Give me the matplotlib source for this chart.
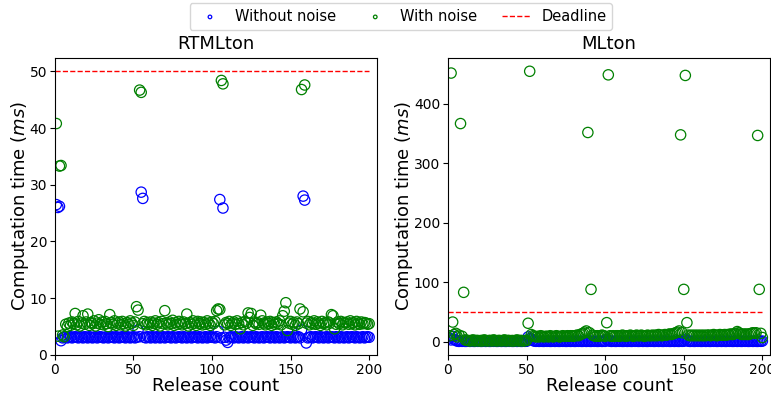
import numpy as np
import matplotlib
matplotlib.use("Agg")
import matplotlib.pyplot as plt

release = list(range(1, 201))
deadline = 50

# RTMLton, computation time (ms)
rt_clean = [
    26.5, 26.0, 26.2, 2.5, 3.0, 3.1, 3.2, 3.0, 3.1, 3.2, 3.0, 3.1, 3.2, 3.1, 3.0, 3.2, 3.1, 3.0, 3.2, 3.1,
    3.0, 3.2, 3.1, 3.0, 3.1, 3.2, 3.0, 3.1, 3.2, 3.1, 3.0, 3.1, 3.2, 3.0, 3.1, 3.2, 3.1, 3.0, 3.2, 3.1,
    3.0, 3.1, 3.2, 3.1, 3.0, 3.2, 3.1, 3.0, 3.1, 3.2, 3.0, 3.1, 4.4, 3.2, 28.7, 27.6, 3.1, 3.0, 3.2, 3.1,
    3.0, 3.2, 3.1, 3.0, 3.2, 3.1, 3.0, 3.1, 3.2, 3.0, 3.1, 3.2, 3.1, 3.0, 3.2, 3.1, 3.0, 3.1, 3.2, 3.1,
    3.0, 3.2, 3.1, 3.0, 3.1, 3.2, 3.0, 3.1, 3.2, 3.1, 3.0, 3.2, 3.1, 3.0, 3.1, 3.2, 3.0, 3.1, 3.2, 3.1,
    3.1, 3.0, 3.2, 4.2, 27.4, 3.0, 25.9, 3.1, 2.6, 2.2, 3.0, 3.2, 3.1, 3.0, 3.2, 3.1, 3.0, 3.1, 3.2, 3.0,
    3.1, 3.2, 3.0, 3.1, 3.2, 3.1, 3.0, 3.2, 3.1, 3.0, 3.1, 3.2, 3.0, 3.1, 3.2, 3.1, 3.0, 3.2, 3.1, 3.0,
    3.2, 3.1, 3.0, 3.1, 3.2, 3.0, 3.1, 3.2, 3.1, 3.0, 3.2, 3.1, 3.0, 3.1, 3.2, 3.0, 4.4, 28.0, 27.3, 2.1,
    3.0, 3.1, 3.2, 3.0, 3.1, 3.2, 3.1, 3.0, 3.2, 3.1, 3.0, 3.1, 3.2, 3.0, 3.1, 3.2, 3.1, 3.0, 3.2, 3.1,
    3.0, 3.2, 3.1, 3.0, 3.1, 3.2, 3.0, 3.1, 3.2, 3.1, 3.0, 3.2, 3.1, 3.0, 3.1, 3.2, 3.0, 3.1, 3.2, 3.1,
]
rt_noise = [
    40.8, 3.3, 33.3, 33.4, 3.5, 3.2, 5.4, 5.0, 5.6, 5.2, 5.8, 5.5, 7.3, 5.3, 5.9, 5.1, 5.6, 6.9, 5.4, 5.8,
    7.2, 5.2, 5.7, 5.5, 6.0, 5.1, 5.6, 6.2, 5.4, 5.8, 5.3, 5.9, 5.5, 5.0, 7.1, 5.7, 5.4, 6.0, 5.2, 5.6,
    5.8, 5.3, 5.9, 5.5, 5.1, 5.7, 5.4, 6.0, 5.6, 5.2, 5.8, 8.5, 7.9, 46.7, 46.3, 5.5, 5.9, 5.3, 5.7, 5.4,
    5.8, 5.2, 5.6, 6.0, 5.4, 5.7, 5.1, 5.9, 5.5, 7.8, 5.6, 5.3, 5.8, 5.5, 6.1, 5.2, 5.7, 5.4, 5.9, 5.6,
    5.3, 5.8, 5.5, 7.2, 5.1, 5.7, 5.4, 6.0, 5.6, 5.2, 5.9, 5.5, 5.8, 5.3, 5.7, 5.4, 6.0, 5.6, 5.2, 5.8,
    5.5, 5.9, 7.8, 8.1, 8.0, 48.4, 47.8, 5.3, 5.7, 5.5, 5.9, 5.2, 5.6, 5.8, 5.4, 6.0, 5.5, 4.6, 5.7, 5.3,
    5.9, 5.6, 7.4, 6.6, 7.3, 5.2, 5.8, 5.5, 5.7, 5.4, 7.0, 6.0, 5.6, 5.3, 5.8, 5.5, 5.9, 5.2, 5.7, 5.4,
    5.8, 5.5, 6.0, 5.3, 6.9, 7.7, 9.2, 4.3, 5.6, 5.9, 5.4, 5.7, 5.2, 5.8, 5.5, 8.1, 46.8, 7.6, 47.6, 5.6,
    5.9, 5.3, 5.7, 5.5, 6.0, 5.4, 5.8, 5.6, 5.2, 5.9, 5.5, 5.7, 5.3, 5.8, 5.6, 7.1, 6.9, 4.6, 5.4, 5.8,
    5.5, 5.9, 5.3, 5.7, 5.6, 5.8, 5.4, 6.0, 5.5, 5.7, 5.3, 5.9, 5.6, 5.4, 5.8, 5.5, 5.7, 5.6, 5.4, 5.5,
]

# MLton, computation time (ms)
ml_clean = [
    6, 3, 9, 4, 2, 1, 0.5, 0.8, 0.6, 0.7, 0.5, 0.6, 0.8, 0.5, 0.7, 0.6, 0.5, 0.8, 0.6, 0.7,
    0.5, 0.6, 0.8, 0.5, 0.7, 0.6, 0.5, 0.8, 0.6, 0.7, 0.5, 0.6, 0.8, 0.5, 0.7, 0.6, 0.5, 0.8, 0.6, 0.7,
    0.5, 0.6, 0.8, 0.5, 0.7, 0.6, 0.5, 0.8, 0.6, 0.7, 8, 5, 4, 2, 1, 0.6, 0.8, 0.5, 0.7, 0.6,
    0.5, 0.8, 0.6, 0.7, 0.5, 0.6, 0.8, 0.5, 0.7, 0.6, 0.5, 0.8, 0.6, 0.7, 0.5, 0.6, 0.8, 0.5, 0.7, 0.6,
    0.5, 0.8, 0.6, 0.7, 0.5, 0.6, 0.8, 0.5, 0.7, 0.6, 0.5, 0.8, 0.6, 0.7, 0.5, 0.6, 0.8, 0.5, 0.7, 0.6,
    4, 2, 0.8, 0.5, 0.7, 0.6, 0.5, 0.8, 0.6, 0.7, 0.5, 0.6, 0.8, 0.5, 0.7, 0.6, 0.5, 0.8, 0.6, 0.7,
    0.5, 0.6, 0.8, 0.5, 0.7, 0.6, 0.5, 0.8, 0.6, 0.7, 0.5, 0.6, 0.8, 0.5, 0.7, 0.6, 0.5, 0.8, 0.6, 0.7,
    0.5, 0.6, 0.8, 0.5, 0.7, 0.6, 0.5, 0.8, 0.6, 0.7, 4, 2, 0.8, 0.5, 0.7, 0.6, 0.5, 0.8, 0.6, 0.7,
    0.5, 0.6, 0.8, 0.5, 0.7, 0.6, 0.5, 0.8, 0.6, 0.7, 0.5, 0.6, 0.8, 0.5, 0.7, 0.6, 0.5, 0.8, 0.6, 0.7,
    0.5, 0.6, 0.8, 0.5, 0.7, 0.6, 0.5, 0.8, 0.6, 0.7, 0.5, 0.6, 0.8, 0.5, 0.7, 0.6, 0.5, 0.8, 0.6, 1.0,
]
ml_noise = [
    10, 452, 33, 12, 14, 8, 11, 367, 9, 83, 3, 2, 2, 1, 2, 3, 1, 2, 2, 1,
    2, 1, 3, 2, 1, 2, 2, 1, 3, 2, 1, 2, 2, 1, 2, 3, 1, 2, 2, 1,
    2, 1, 2, 3, 1, 2, 2, 1, 2, 2, 31, 455, 12, 10, 9, 8, 9, 8, 10, 9,
    8, 9, 9, 8, 10, 9, 8, 9, 10, 9, 8, 9, 10, 9, 9, 10, 9, 10, 10, 9,
    10, 11, 10, 12, 13, 14, 16, 18, 352, 15, 88, 11, 10, 9, 10, 9, 10, 11, 10, 9,
    32, 449, 10, 9, 10, 9, 10, 10, 9, 10, 11, 10, 9, 10, 10, 11, 10, 9, 10, 11,
    10, 10, 11, 10, 9, 10, 11, 10, 10, 11, 10, 11, 10, 12, 11, 10, 11, 12, 11, 12,
    13, 12, 13, 14, 15, 16, 18, 348, 15, 88, 448, 32, 11, 10, 11, 10, 11, 10, 11, 10,
    11, 10, 11, 10, 11, 11, 10, 11, 12, 11, 10, 11, 12, 11, 11, 12, 11, 12, 12, 13,
    12, 13, 14, 17, 15, 13, 12, 13, 12, 13, 12, 13, 14, 15, 14, 15, 347, 88, 14, 7,
]

fig = plt.figure(figsize=(7.71, 3.93), dpi=100)
ax1 = fig.add_axes([0.071, 0.097, 0.418, 0.756])
ax2 = fig.add_axes([0.581, 0.097, 0.418, 0.756])

panels = [(ax1, "RTMLton", rt_clean, rt_noise), (ax2, "MLton", ml_clean, ml_noise)]
for ax, title, clean, noise in panels:
    ax.scatter(release, clean, s=55, facecolors="none", edgecolors="b", linewidths=0.9,
               label="Without noise")
    ax.scatter(release, noise, s=55, facecolors="none", edgecolors="g", linewidths=0.9,
               label="With noise")
    ax.plot([0, 200], [deadline, deadline], "r--", linewidth=1, label="Deadline")
    ax.set_title(title, fontsize=13)
    ax.set_xlabel("Release count", fontsize=13, labelpad=0)
    ax.set_ylabel("Computation time ($ms$)", fontsize=13, labelpad=-1)
    ax.set_xlim(0, 205)
    ax.set_xticks([0, 50, 100, 150, 200])
    ax.tick_params(labelsize=10, pad=2)

ax1.set_ylim(0, 52.4)

handles, labels = ax1.get_legend_handles_labels()
fig.legend(handles, labels, loc="upper center", bbox_to_anchor=(0.52, 1.0), ncol=3,
           fontsize=10.5, markerscale=0.35, handlelength=2.0, handletextpad=0.7,
           columnspacing=1.7, borderaxespad=0.2)

fig.savefig("out.png", dpi=100)
